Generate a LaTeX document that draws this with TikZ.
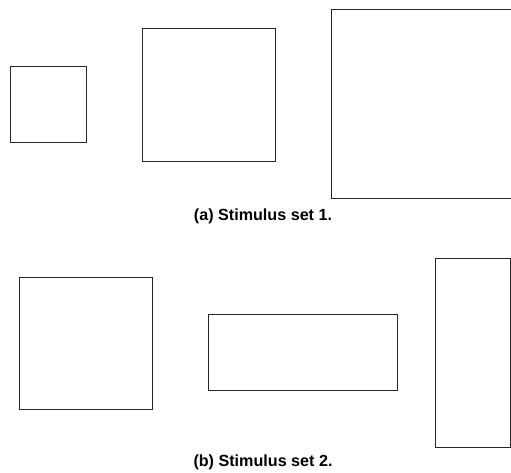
\documentclass[tikz,border=0pt]{standalone}
\usepackage{fontspec}
\setmainfont{Liberation Sans}
\usetikzlibrary{positioning}

\begin{document}
\begin{tikzpicture}[x=1bp,y=-1bp]
\tikzstyle{stim}=[draw=black!85,line width=0.9bp]
\tikzstyle{caption}=[font=\fontsize{16.2}{19}\selectfont\bfseries,inner sep=0pt,anchor=base]
\useasboundingbox (0,0) rectangle (511,473);
% stimulus set 1
\draw[stim] (10,66) rectangle (86,142);
\draw[stim] (142,28) rectangle (275,161);
\draw[stim] (331,9) rectangle (520,198);
\node[caption] (capA) at (263,221) {(a) Stimulus set 1.};
% stimulus set 2
\draw[stim] (19,277) rectangle (152,409);
\draw[stim] (208,314) rectangle (397,390);
\draw[stim] (435,258) rectangle (510,447);
\node[caption] (capB) at (263,466) {(b) Stimulus set 2.};
\end{tikzpicture}
\end{document}
